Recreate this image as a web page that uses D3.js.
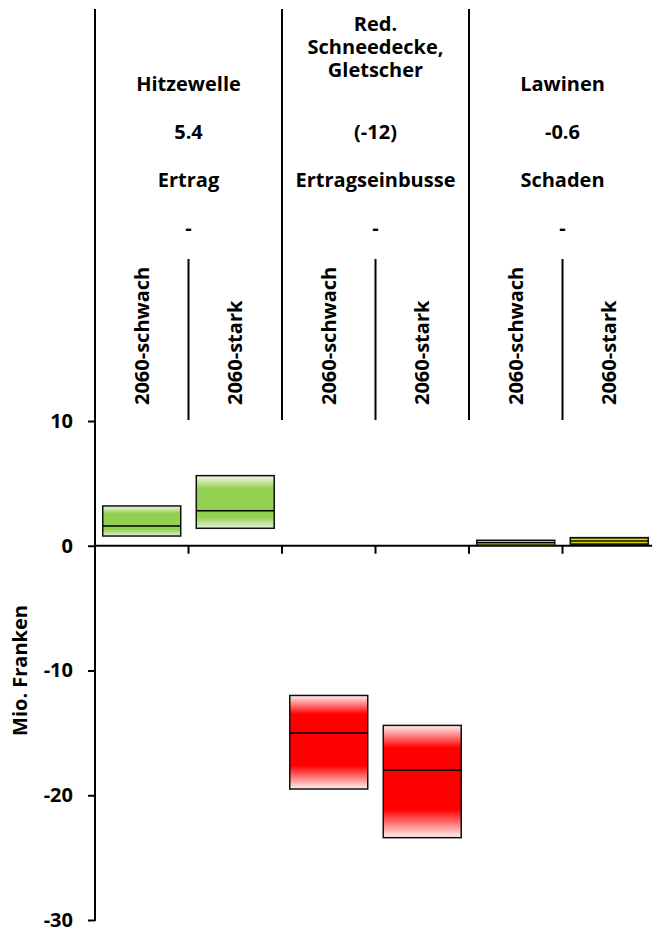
<!DOCTYPE html>
<html><head><meta charset="utf-8">
<script src="https://cdn.jsdelivr.net/npm/d3@7"></script>
<style>
html,body{margin:0;padding:0;background:#fff;}
svg text{font-family:"Open Sans",sans-serif;font-weight:bold;fill:#000;}
</style></head>
<body><svg id="c" width="652" height="928"></svg>
<script>
const groups = [["Hitzewelle"], ["Red.", "Schneedecke,", "Gletscher"], ["Lawinen"]];
const groupValues = ["5.4", "(-12)", "-0.6"];
const groupTypes = ["Ertrag", "Ertragseinbusse", "Schaden"];
const groupDash = ["-", "-", "-"];
const scenarios = ["2060-schwach", "2060-stark"];
const lows  = [0.78, 1.40, -19.5, -23.4, 0.04, 0.12];
const mids  = [1.58, 2.81, -15.0, -18.0, 0.24, 0.38];
const highs = [3.19, 5.62, -12.0, -14.4, 0.44, 0.65];
const yTicks = [10, 0, -10, -20, -30];
const yTitle = "Mio. Franken";

const svg = d3.select("#c");
const x0 = 95, slotW = 93.5;
const slots = [];
groups.forEach((g, gi) => scenarios.forEach((s, si) => slots.push({gi, si, key: gi + "-" + si, label: s})));
const x = d3.scaleBand().domain(slots.map(d => d.key)).range([x0, x0 + slots.length * slotW]).paddingInner(0.166).paddingOuter(0.083);
const y = d3.scaleLinear().domain([-30, 10]).range([920, 421]);

// gradients
const defs = svg.append("defs");
function grad(id, stops) {
  const g = defs.append("linearGradient").attr("id", id).attr("x1", 0).attr("x2", 0).attr("y1", 0).attr("y2", 1);
  stops.forEach(s => g.append("stop").attr("offset", s[0]).attr("stop-color", s[1]));
}
grad("gGreen", [[0, "#f2f9ea"], [0.25, "#92d050"], [0.78, "#92d050"], [1, "#e6f3d8"]]);
grad("gRed", [[0, "#fff0f0"], [0.2, "#ff0000"], [0.75, "#ff0000"], [1, "#fff2f2"]]);
grad("gYellow", [[0, "#4a4a00"], [0.35, "#ffff00"], [0.65, "#ffff00"], [1, "#4a4a00"]]);
const fills = ["url(#gGreen)", "url(#gRed)", "url(#gYellow)"];

// header lines
const groupStep = slotW * 2;
svg.selectAll("line.main").data([1, 2]).enter().append("line")
  .attr("x1", i => x0 + i * groupStep).attr("x2", i => x0 + i * groupStep)
  .attr("y1", 9).attr("y2", 420).attr("stroke", "#000").attr("stroke-width", 2);
svg.selectAll("line.sub").data([0, 1, 2]).enter().append("line")
  .attr("x1", i => x0 + i * groupStep + slotW).attr("x2", i => x0 + i * groupStep + slotW)
  .attr("y1", 259).attr("y2", 420).attr("stroke", "#000").attr("stroke-width", 2);

// header texts
const gx = i => x0 + i * groupStep + slotW;
groups.forEach((lines, i) => {
  lines.forEach((t, li) => {
    const yy = lines.length === 1 ? 91 : 77 - (lines.length - 1 - li) * 23;
    svg.append("text").attr("x", gx(i)).attr("y", yy)
      .attr("text-anchor", "middle").attr("font-size", 20).text(t);
  });
  svg.append("text").attr("x", gx(i)).attr("y", 139).attr("text-anchor", "middle").attr("font-size", 20).text(groupValues[i]);
  svg.append("text").attr("x", gx(i)).attr("y", 187).attr("text-anchor", "middle").attr("font-size", 20).text(groupTypes[i]);
  svg.append("text").attr("x", gx(i)).attr("y", 235).attr("text-anchor", "middle").attr("font-size", 20).text(groupDash[i]);
});
// scenario labels
svg.selectAll("text.scn").data(slots).enter().append("text")
  .attr("transform", d => `translate(${x(d.key) + x.bandwidth() / 2},405) rotate(-90)`)
  .attr("dy", "0.36em").attr("font-size", 20).attr("text-anchor", "start").text(d => d.label);

// y axis
const ax = svg.append("g").attr("transform", `translate(${x0},0)`)
  .call(d3.axisLeft(y).tickValues(yTicks).tickSize(7).tickPadding(15).tickFormat(d => String(d)));
ax.select(".domain").remove();
ax.selectAll(".tick line").attr("stroke", "#000").attr("stroke-width", 2);
ax.selectAll(".tick text").attr("font-size", 20).attr("font-family", "Open Sans").attr("font-weight", "bold").attr("fill", "#000");
svg.append("line").attr("x1", x0).attr("x2", x0).attr("y1", 9).attr("y2", y(-30) + 1).attr("stroke", "#000").attr("stroke-width", 2);

svg.append("text").attr("transform", `translate(20,${y(-10)}) rotate(-90)`).attr("text-anchor", "middle")
  .attr("dy", "0.36em").attr("font-size", 20).text(yTitle);

// zero line with ticks
svg.append("line").attr("x1", x0).attr("x2", 652).attr("y1", y(0)).attr("y2", y(0)).attr("stroke", "#000").attr("stroke-width", 2);
svg.selectAll("line.zt").data([1, 2, 3, 4, 5]).enter().append("line")
  .attr("x1", i => x0 + i * slotW).attr("x2", i => x0 + i * slotW)
  .attr("y1", y(0)).attr("y2", y(0) + 8).attr("stroke", "#000").attr("stroke-width", 2);

// boxes
const data = slots.map((s, i) => ({...s, lo: lows[i], mid: mids[i], hi: highs[i]}));
svg.selectAll("rect.box").data(data).enter().append("rect")
  .attr("x", d => x(d.key)).attr("width", x.bandwidth())
  .attr("y", d => y(d.hi)).attr("height", d => y(d.lo) - y(d.hi))
  .attr("fill", d => fills[d.gi]).attr("stroke", "#111").attr("stroke-width", 1.5);
svg.selectAll("line.med").data(data).enter().append("line")
  .attr("x1", d => x(d.key)).attr("x2", d => x(d.key) + x.bandwidth())
  .attr("y1", d => y(d.mid)).attr("y2", d => y(d.mid)).attr("stroke", "#000").attr("stroke-width", 1.5);
</script></body></html>
